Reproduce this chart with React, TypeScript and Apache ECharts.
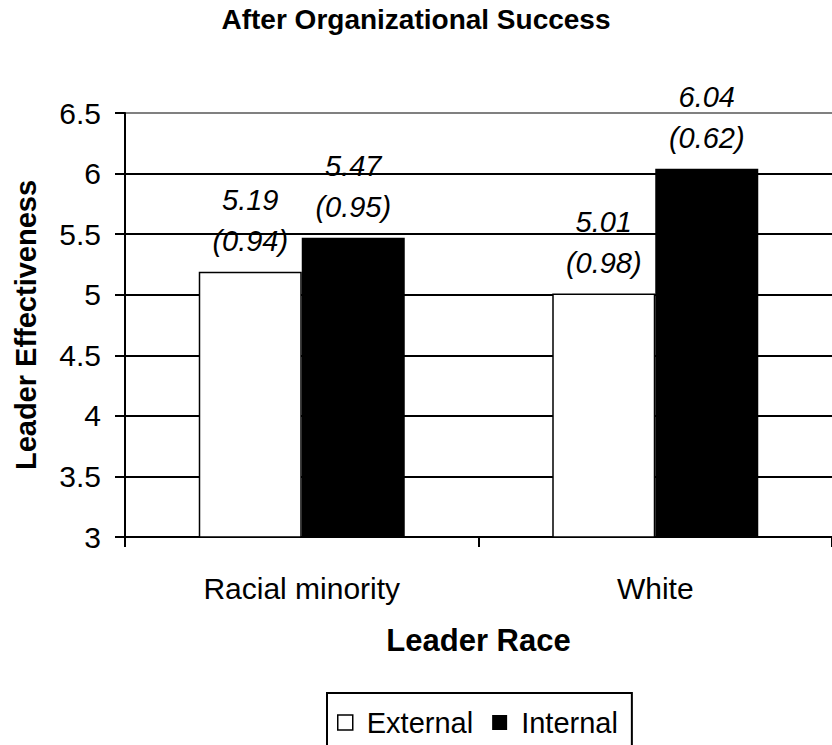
import React, { useEffect, useRef } from "react";
import * as echarts from "echarts";

const chartTitle = "After Organizational Success";
const categories = ["Racial minority", "White"];
const seriesNames = ["External", "Internal"];
const externalMeans = [5.19, 5.01];
const internalMeans = [5.47, 6.04];
const externalSDs = [0.94, 0.98];
const internalSDs = [0.95, 0.62];
const yMin = 3;
const yMax = 6.5;
const yStep = 0.5;
const xAxisName = "Leader Race";
const yAxisName = "Leader Effectiveness";

export default function App() {
  const ref = useRef<HTMLDivElement>(null);

  useEffect(() => {
    if (!ref.current) return;
    const chart = echarts.init(ref.current, null, { renderer: "svg" });
    const font = "'Liberation Sans', Arial, sans-serif";
    const fmt = (sds: number[]) => (p: any) =>
      `${Number(p.value).toFixed(2)}\n(${sds[p.dataIndex].toFixed(2)})`;
    const nLines = Math.round((yMax - yMin) / yStep) + 1;
    const splitColors = Array.from({ length: nLines }, (_, i) =>
      i === nLines - 1 ? "#808080" : "#000000"
    );
    const labelStyle = {
      show: true,
      position: "top",
      distance: 10,
      fontFamily: font,
      fontStyle: "italic",
      fontSize: 29,
      lineHeight: 41,
      color: "#000",
    };

    chart.setOption({
      animation: false,
      backgroundColor: "#ffffff",
      title: {
        text: chartTitle,
        left: "center",
        top: 0,
        padding: [5, 0, 0, 0],
        textStyle: {
          fontFamily: font,
          fontWeight: "bold",
          fontSize: 28,
          color: "#000",
        },
      },
      legend: {
        data: [
          {
            name: seriesNames[0],
            itemStyle: { color: "#fff", borderColor: "#000", borderWidth: 1.5 },
          },
          { name: seriesNames[1], itemStyle: { color: "#000" } },
        ],
        left: 327,
        top: 693,
        padding: [15, 14, 40, 10],
        borderColor: "#000",
        borderWidth: 2,
        icon: "rect",
        itemWidth: 15,
        itemHeight: 15,
        itemGap: 19,
        textStyle: {
          fontFamily: font,
          fontSize: 29,
          color: "#000",
          padding: [0, 0, 0, 9],
        },
      },
      grid: { left: 125, top: 113, width: 715, height: 424 },
      xAxis: {
        type: "category",
        data: categories,
        axisLine: { show: true, lineStyle: { color: "#000", width: 2 } },
        axisTick: {
          show: true,
          length: 10,
          alignWithLabel: false,
          lineStyle: { color: "#000", width: 2 },
        },
        axisLabel: {
          margin: 36,
          fontFamily: font,
          fontSize: 30,
          color: "#000",
        },
        name: xAxisName,
        nameLocation: "middle",
        nameGap: 88,
        nameTextStyle: {
          fontFamily: font,
          fontWeight: "bold",
          fontSize: 31,
          color: "#000",
        },
      },
      yAxis: {
        type: "value",
        min: yMin,
        max: yMax,
        interval: yStep,
        axisLine: { show: true, lineStyle: { color: "#000", width: 2 } },
        axisTick: {
          show: true,
          inside: false,
          length: 10,
          lineStyle: { color: "#000", width: 2 },
        },
        axisLabel: {
          margin: 24,
          fontFamily: font,
          fontSize: 30,
          color: "#000",
          formatter: (v: number) => String(v),
        },
        splitLine: {
          show: true,
          lineStyle: { color: splitColors, width: 2 },
        },
        name: yAxisName,
        nameLocation: "middle",
        nameGap: 85,
        nameTextStyle: {
          fontFamily: font,
          fontWeight: "bold",
          fontSize: 29,
          color: "#000",
        },
      },
      series: [
        {
          name: seriesNames[0],
          type: "bar",
          data: externalMeans,
          barWidth: 103,
          barGap: "0%",
          itemStyle: { color: "#fff", borderColor: "#000", borderWidth: 1.5 },
          label: { ...labelStyle, formatter: fmt(externalSDs) },
        },
        {
          name: seriesNames[1],
          type: "bar",
          data: internalMeans,
          barWidth: 103,
          barGap: "0%",
          itemStyle: { color: "#000" },
          label: { ...labelStyle, formatter: fmt(internalSDs) },
        },
      ],
    });

    return () => chart.dispose();
  }, []);

  return (
    <div
      ref={ref}
      style={{ position: "absolute", left: 0, top: 0, width: 832, height: 745 }}
    />
  );
}
